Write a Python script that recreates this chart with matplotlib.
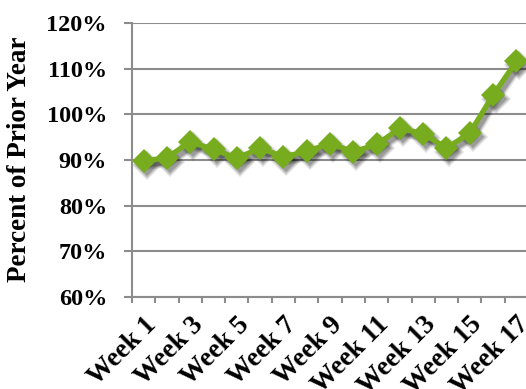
import matplotlib
matplotlib.use("Agg")
import matplotlib.pyplot as plt
import matplotlib.transforms as mtrans

weeks = [f"Week {i}" for i in range(1, 18)]
values = [89.8, 90.5, 94.0, 92.3, 90.4, 92.6, 90.7, 91.9, 93.6, 91.8, 93.4, 96.9, 95.8, 92.6, 95.9, 104.2, 111.6]
yticks = [60, 70, 80, 90, 100, 110, 120]
ytick_labels = [f"{v}%" for v in yticks]

plt.rcParams["font.family"] = ["Liberation Serif", "DejaVu Serif"]
plt.rcParams["font.weight"] = "bold"

W, H = 526, 389
fig = plt.figure(figsize=(W / 100, H / 100), dpi=100)
ax = fig.add_axes([132 / W, 1 - 297 / H, (528 - 132) / W, (297 - 23) / H])

grid_c = "#8c8c8c"
green = "#77ac1f"

x = list(range(1, len(values) + 1))

# soft drop shadow, built from a few offset translucent copies
for dx, dy, a, lw, ms in [(3, -4, 0.12, 7, 15), (3, -4, 0.15, 5, 13), (3, -4, 0.18, 3.5, 11)]:
    tr = mtrans.offset_copy(ax.transData, fig=fig, x=dx, y=dy, units="dots")
    ax.plot(x, values, color="black", alpha=a, lw=lw, marker="D", ms=ms, mew=0,
            transform=tr, zorder=2, clip_on=False, solid_joinstyle="round")

ax.plot(x, values, color=green, lw=3.8, marker="D", ms=12.5, mec=green, mew=0,
        zorder=3, clip_on=False)

ax.set_xlim(0.5, len(values) + 0.5)
ax.set_ylim(60, 120)
ax.set_yticks(yticks)
ax.set_yticklabels(ytick_labels, fontsize=17.5, fontweight="bold")
ax.yaxis.grid(True, color=grid_c, lw=1.5)
ax.set_axisbelow(True)

# minor ticks at category boundaries, labels every other week
ax.set_xticks([i + 0.5 for i in range(0, len(values) + 1)], minor=True)
ax.set_xticks(x[::2])
ax.set_xticklabels(weeks[::2], rotation=45, ha="right", va="top",
                   rotation_mode="anchor", fontsize=19.5, fontweight="bold")
shift = mtrans.ScaledTranslation(3 / 100, 0, fig.dpi_scale_trans)
for lab in ax.get_xticklabels():
    lab.set_transform(lab.get_transform() + shift)
ax.tick_params(axis="x", which="major", length=0, pad=11)
ax.tick_params(axis="x", which="minor", length=4, width=1.5, color=grid_c, direction="out")
ax.tick_params(axis="y", length=6, width=1.5, color=grid_c, pad=12)

for s in ["top", "right"]:
    ax.spines[s].set_visible(False)
for s in ["left", "bottom"]:
    ax.spines[s].set_color(grid_c)
    ax.spines[s].set_linewidth(1.5)

fig.text(20 / W, 1 - 159 / H, "Percent of Prior Year", rotation=90, ha="center", va="center",
         fontsize=19.5, fontweight="bold")

fig.savefig("out.png", dpi=100)
